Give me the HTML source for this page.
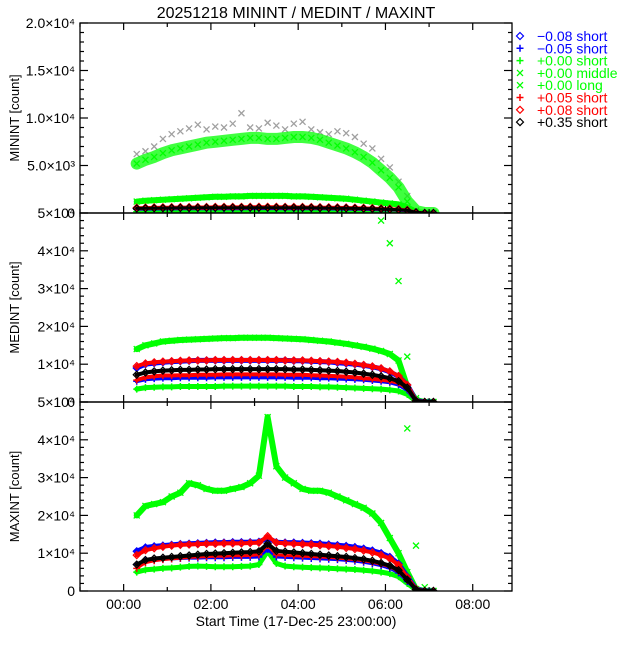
<!DOCTYPE html>
<html><head><meta charset="utf-8"><style>
body{margin:0;background:#fff;}
svg text{font-family:"Liberation Sans",sans-serif;}
</style></head><body>
<svg id="chart" width="640" height="640" xmlns="http://www.w3.org/2000/svg">
<rect width="640" height="640" fill="#fff"/>
<text x="296" y="18" font-size="16" text-anchor="middle">20251218 MININT / MEDINT / MAXINT</text>
<text x="296" y="626" font-size="14" text-anchor="middle">Start Time (17-Dec-25 23:00:00)</text>
<g id="panels"></g>
<g id="legend"></g>
</svg>
<script>
const times=[0.3,0.5,0.7,0.9,1.1,1.3,1.5,1.7,1.9,2.1,2.3,2.5,2.7,2.9,3.1,3.3,3.5,3.7,3.9,4.1,4.3,4.5,4.7,4.9,5.1,5.3,5.5,5.7,5.9,6.1,6.3,6.5,6.7,6.9,7.1];
const xTickLabels=["00:00","02:00","04:00","06:00","08:00"];
const xTickHours=[0,2,4,6,8];
const legendLabels=["\u22120.08 short","\u22120.05 short","+0.00 short","+0.00 middle","+0.00 long","+0.05 short","+0.08 short","+0.35 short"];
// MININT
const minMiddle=[5200,5600,5900,6300,6600,6800,7000,7200,7400,7500,7600,7700,7800,7900,7900,7800,7800,7900,8000,8000,7900,7700,7400,7100,6800,6400,5900,5300,4500,3700,2700,1200,200,0,0];
const minLong=[1200,1300,1350,1400,1450,1500,1550,1600,1650,1700,1700,1750,1750,1800,1800,1800,1800,1800,1750,1750,1700,1650,1600,1550,1500,1400,1300,1200,1100,1000,900,600,100,0,0];
const minBlueD=[500,520,540,550,560,570,570,580,580,580,590,590,590,600,600,600,600,600,590,590,580,570,560,550,540,520,500,480,450,420,380,300,80,0,0];
const minBlueP=[400,410,420,430,430,440,440,440,450,450,450,450,450,460,460,460,460,450,450,450,440,440,430,420,410,400,380,360,340,320,290,230,60,0,0];
const minGreenP=[150,150,160,160,160,170,170,170,170,170,170,170,170,170,170,170,170,170,170,170,170,160,160,160,150,150,140,130,120,110,100,80,20,0,0];
const minRedP=[450,460,470,480,490,500,500,510,510,520,520,520,520,530,530,530,530,520,520,520,510,500,490,480,470,450,430,410,390,360,330,260,70,0,0];
const minRedD=[550,570,590,600,610,620,620,630,630,640,640,640,640,650,650,650,650,640,640,630,620,610,600,590,580,560,540,510,480,450,400,320,80,0,0];
const minBlackD=[480,500,510,520,530,540,540,550,550,550,560,560,560,560,560,560,560,560,550,550,540,530,520,510,500,480,460,440,410,380,340,270,70,0,0];
const minOutliers=[6200,6500,7000,7800,8300,8600,8900,9300,8800,9100,9000,9400,10500,9000,8900,9500,9200,8800,9400,9600,8800,8500,8300,8600,8400,8000,7300,6800,5700,4800,3300,1800,300,0,0];
// MEDINT
const medMiddle=[14000,15000,15500,16000,16200,16400,16500,16600,16700,16800,16900,16900,17000,17000,17000,17000,16900,16800,16700,16600,16400,16200,16000,15700,15400,15000,14600,14100,13500,12700,11000,4000,500,0,0];
const medLong=[60000,60000,60000,60000,60000,60000,60000,60000,60000,60000,60000,60000,60000,60000,60000,60000,60000,60000,60000,60000,60000,60000,60000,60000,60000,60000,60000,56000,48000,42000,32000,12000,1000,0,0];
const medBlueD=[9000,10000,10300,10500,10700,10800,10900,11000,11000,11000,11000,11000,11000,11000,11000,11000,11000,11000,10900,10900,10800,10700,10600,10400,10200,10000,9700,9300,8800,8000,6800,4500,400,0,0];
const medBlueP=[5500,6000,6200,6300,6300,6400,6400,6400,6400,6500,6500,6500,6500,6500,6500,6500,6500,6500,6400,6400,6400,6300,6300,6200,6100,6000,5900,5700,5500,5200,4600,3200,300,0,0];
const medGreenP=[3400,3800,3900,4000,4000,4100,4100,4100,4100,4100,4200,4200,4200,4200,4200,4200,4200,4200,4100,4100,4100,4000,4000,3900,3800,3700,3600,3500,3400,3200,2900,2000,200,0,0];
const medRedP=[5800,6500,6800,7000,7000,7100,7100,7200,7200,7200,7300,7300,7300,7300,7300,7300,7300,7200,7200,7200,7100,7000,6900,6800,6700,6500,6300,6100,5900,5600,5100,3600,300,0,0];
const medRedD=[9500,10200,10500,10700,10800,10900,11000,11000,11000,11100,11100,11100,11100,11100,11100,11100,11100,11000,11000,11000,10900,10800,10700,10600,10400,10100,9800,9400,8900,8100,6900,4500,400,0,0];
const medBlackD=[7200,7800,8100,8300,8400,8500,8500,8600,8600,8700,8700,8700,8700,8700,8700,8700,8700,8700,8600,8600,8500,8400,8300,8200,8000,7800,7500,7200,6800,6300,5500,3800,300,0,0];
// MAXINT
const maxMiddle=[20000,22500,23000,23500,25000,26000,28500,28000,27000,26500,26500,27000,27500,28500,30500,46000,33000,30000,28500,27000,26500,26500,26000,25000,24000,23000,22000,20500,18000,14000,10000,5000,500,0,0];
const maxLong=[60000,60000,60000,60000,60000,60000,60000,60000,60000,60000,60000,60000,60000,60000,60000,60000,60000,60000,60000,60000,60000,60000,60000,60000,60000,60000,60000,60000,60000,60000,60000,43000,12000,1000,0];
const maxBlueD=[10500,11500,11800,12000,12200,12400,12500,12600,12700,12800,12800,12900,12900,12900,13000,14000,12900,12800,12800,12700,12600,12500,12300,12100,11900,11600,11200,10700,10000,9000,7200,3800,500,0,0];
const maxBlueP=[7000,8000,8200,8400,8500,8600,8700,8700,8800,8800,8800,8900,8900,8900,9000,11000,9000,8900,8800,8700,8600,8500,8400,8300,8100,7900,7600,7200,6700,6000,4800,2500,300,0,0];
const maxGreenP=[5000,5600,5800,6000,6100,6300,6500,6600,6500,6400,6400,6400,6500,6600,7000,10500,7300,6600,6400,6300,6200,6100,6000,5900,5800,5700,5500,5300,5000,4600,3800,2000,300,0,0];
const maxRedP=[6000,7500,8000,8300,8500,8700,8900,9000,9100,9200,9200,9300,9300,9400,9600,12000,9600,9400,9300,9200,9100,9000,8900,8700,8500,8300,8000,7600,7100,6400,5200,2800,400,0,0];
const maxRedD=[9500,10800,11300,11700,12000,12200,12300,12400,12500,12500,12600,12600,12600,12700,12800,14500,12800,12600,12500,12400,12300,12100,11900,11700,11400,11100,10700,10200,9500,8600,6900,3600,500,0,0];
const maxBlackD=[7000,8200,8600,8800,9000,9200,9400,9600,9800,9900,10000,10100,10200,10300,10500,12500,10600,10400,10200,10000,9800,9600,9400,9200,9000,8700,8400,8000,7400,6700,5500,3000,400,0,0];

const NS="http://www.w3.org/2000/svg";
const X0=80,X1=512,TMIN=-1,TMAX=8.9;
function sx(t){return X0+(t-TMIN)/(TMAX-TMIN)*(X1-X0);}
function mk(tag,attrs,parent){const e=document.createElementNS(NS,tag);for(const k in attrs)e.setAttribute(k,attrs[k]);parent.appendChild(e);return e;}
const root=document.getElementById('panels');
const BLUE="#0000ff",GREEN="#00ff00",RED="#ff0000",BLACK="#000000",GREY="#a0a0a0";
function marker(g,type,x,y,c){
  let e;
  if(type==='d'){e=mk('path',{d:`M${x} ${y-3.5}L${x+3.5} ${y}L${x} ${y+3.5}L${x-3.5} ${y}Z`,fill:'none',stroke:c,'stroke-width':1.2},g);}
  else if(type==='p'){e=mk('path',{d:`M${x-3.5} ${y}H${x+3.5}M${x} ${y-3.5}V${y+3.5}`,stroke:c,'stroke-width':1.5},g);}
  else {e=mk('path',{d:`M${x-3} ${y-3}L${x+3} ${y+3}M${x+3} ${y-3}L${x-3} ${y+3}`,stroke:c,'stroke-width':1.3},g);}
  
  
}
const panels=[
 {name:'minint',top:23,bot:213,max:20000,major:5000,minor:1000,title:'MININT [count]',
  labels:["0","5.0\u00d710\u00b3","1.0\u00d710\u2074","1.5\u00d710\u2074","2.0\u00d710\u2074"],
  series:[[minOutliers,'x',GREY,0],[minMiddle,'x',GREEN,12],[minLong,'x',GREEN,6],[minGreenP,'p',GREEN,3],[minBlueP,'p',BLUE,3],[minRedP,'p',RED,3],[minBlueD,'d',BLUE,3],[minRedD,'d',RED,3],[minBlackD,'d',BLACK,3]]},
 {name:'medint',top:213,bot:402,max:50000,major:10000,minor:2000,title:'MEDINT [count]',
  labels:["0","1\u00d710\u2074","2\u00d710\u2074","3\u00d710\u2074","4\u00d710\u2074","5\u00d710\u2074"],
  series:[[medMiddle,'x',GREEN,6],[medLong,'x',GREEN,0],[medGreenP,'p',GREEN,5],[medBlueP,'p',BLUE,4],[medBlueD,'d',BLUE,5],[medRedD,'d',RED,4],[medRedP,'p',RED,4],[medBlackD,'d',BLACK,4]]},
 {name:'maxint',top:402,bot:591,max:50000,major:10000,minor:2000,title:'MAXINT [count]',
  labels:["0","1\u00d710\u2074","2\u00d710\u2074","3\u00d710\u2074","4\u00d710\u2074","5\u00d710\u2074"],
  series:[[maxMiddle,'x',GREEN,6],[maxLong,'x',GREEN,0],[maxGreenP,'p',GREEN,5],[maxBlueD,'d',BLUE,5],[maxRedD,'d',RED,4],[maxBlueP,'p',BLUE,3],[maxRedP,'p',RED,3],[maxBlackD,'d',BLACK,4]]}
];
panels.forEach((p,pi)=>{
  const g=mk('g',{},root);
  
  
  const sy=v=>p.bot-v/p.max*(p.bot-p.top);
  const cp=mk('clipPath',{id:'clip'+pi},g);
  mk('rect',{x:X0,y:p.top,width:X1-X0,height:p.bot-p.top},cp);
  const dg=mk('g',{'clip-path':`url(#clip${pi})`},g);
  
  
  p.series.forEach(s=>{
    const [vals,type,c,w]=s;
    if(w>0){
      const pts=vals.map((v,i)=>sx(times[i]).toFixed(1)+','+sy(v).toFixed(1)).join(' ');
      const band=mk('polyline',{points:pts,fill:'none',stroke:c,'stroke-width':w,'stroke-linejoin':'round','stroke-linecap':'round',opacity:w>10?0.75:1},dg);
      
      
    }
    vals.forEach((v,i)=>marker(dg,type,sx(times[i]),sy(v),c));
  });
  const fr=mk('rect',{x:X0,y:p.top,width:X1-X0,height:p.bot-p.top,fill:'none',stroke:'#000','stroke-width':1.3},g);
  
  
  for(let v=0;v<=p.max+1e-6;v+=p.minor){
    const y=sy(v);const isMaj=Math.abs(v/p.major-Math.round(v/p.major))<1e-6;const L=isMaj?8:4;
    mk('line',{x1:X0,x2:X0+L,y1:y,y2:y,stroke:'#000','stroke-width':1.2},g);
    mk('line',{x1:X1,x2:X1-L,y1:y,y2:y,stroke:'#000','stroke-width':1.2},g);
  }
  p.labels.forEach((lab,i)=>{
    const t=mk('text',{x:75,y:sy(i*p.major)+5,'font-size':14,'text-anchor':'end'},g);
    t.textContent=lab;
    
    
  });
  for(let h=-1;h<=8;h++){
    const x=sx(h);const L=(h%2===0)?7:4;
    mk('line',{x1:x,x2:x,y1:p.bot,y2:p.bot-L,stroke:'#000','stroke-width':1.2},g);
    mk('line',{x1:x,x2:x,y1:p.top,y2:p.top+L,stroke:'#000','stroke-width':1.2},g);
  }
  const yt=mk('text',{x:0,y:0,'font-size':13,'text-anchor':'middle',transform:`translate(19 ${(p.top+p.bot)/2}) rotate(-90)`},g);
  yt.textContent=p.title;
  
  
});
xTickLabels.forEach((lab,i)=>{
  const t=mk('text',{x:sx(xTickHours[i]),y:609,'font-size':14,'text-anchor':'middle'},root);
  t.textContent=lab;
  
  
});
const lg=document.getElementById('legend');
const legTypes=['d','p','p','x','x','p','d','d'];
const legColors=[BLUE,BLUE,GREEN,GREEN,GREEN,RED,RED,BLACK];
legendLabels.forEach((lab,i)=>{
  const y=36+i*12.3;
  const e=mk('g',{},lg);
  
  
  marker(e,legTypes[i],520,y,legColors[i]);
  const t=mk('text',{x:537,y:y+5,'font-size':14,fill:legColors[i]},e);
  t.textContent=lab;
});
</script>
</body></html>
